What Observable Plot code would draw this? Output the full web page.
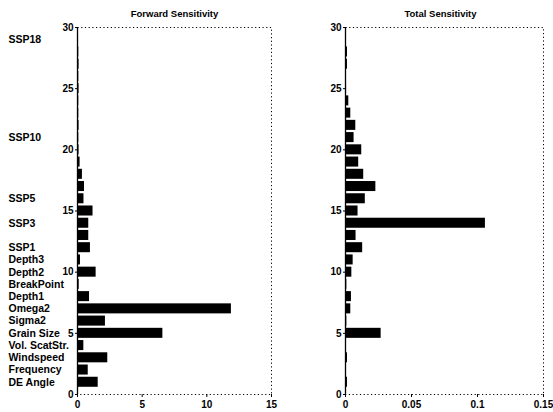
<!DOCTYPE html>
<html>
<head>
<meta charset="utf-8">
<script src="https://cdn.jsdelivr.net/npm/d3@7"></script>
<script src="https://cdn.jsdelivr.net/npm/@observablehq/plot@0.6"></script>
<style>
  html, body { margin: 0; padding: 0; background: #fff; }
  #row { display: flex; flex-direction: row; width: 553px; height: 412px; }
</style>
</head>
<body>
<div id="row"></div>
<script>
// Parameters, bottom (position 1) to top (position 29)
const params = ["DE Angle", "Frequency", "Windspeed", "Vol. ScatStr.", "Grain Size",
  "Sigma2", "Omega2", "Depth1", "BreakPoint", "Depth2", "Depth3",
  "SSP1", "SSP2", "SSP3", "SSP4", "SSP5", "SSP6", "SSP7", "SSP8", "SSP9", "SSP10",
  "SSP11", "SSP12", "SSP13", "SSP14", "SSP15", "SSP16", "SSP17", "SSP18"];
const shownLabels = ["DE Angle", "Frequency", "Windspeed", "Vol. ScatStr.", "Grain Size",
  "Sigma2", "Omega2", "Depth1", "BreakPoint", "Depth2", "Depth3",
  "SSP1", "SSP3", "SSP5", "SSP10", "SSP18"];
const forward = [1.6, 0.83, 2.34, 0.49, 6.6, 2.16, 11.9, 0.93, 0.13, 1.44, 0.23,
  1.0, 0.87, 0.87, 1.2, 0.5, 0.54, 0.38, 0.2, 0.12, 0.1, 0.12, 0.1, 0.1, 0.12, 0.1, 0.12, 0.1, 0.08];
const total = [0.0015, 0.0005, 0.0015, 0.0005, 0.027, 0.001, 0.004, 0.0045, 0.001, 0.0048, 0.0058,
  0.013, 0.008, 0.106, 0.0095, 0.015, 0.023, 0.0138, 0.010, 0.0123, 0.0065, 0.0078, 0.004, 0.0025,
  0.0008, 0.0005, 0.0015, 0.0015, 0.0005];
const yTicks = [0, 5, 10, 15, 20, 25, 30];
const fwdTicks = [0, 5, 10, 15];
const totTicks = [0, 0.05, 0.1, 0.15];
const titles = ["Forward Sensitivity", "Total Sensitivity"];

const rows = params.map((name, i) => ({name, pos: i + 1, fwd: forward[i], tot: total[i]}));
const labelRows = rows.filter(d => shownLabels.includes(d.name));

const font = {fontFamily: "'Liberation Sans', Arial, sans-serif", fontSize: "10px", fontWeight: "bold", background: "#fff", color: "#000"};

function panel({width, marginLeft, marginRight, key, domain, ticks, title, withLabels, titleDx}) {
  return Plot.plot({
    width, height: 412,
    marginLeft, marginRight, marginTop: 27, marginBottom: 18,
    style: font,
    x: {domain, ticks, tickFormat: d => String(d), tickSize: 3, tickPadding: 3, label: null},
    y: {domain: [0, 30], ticks: yTicks, tickSize: 2, tickPadding: 2, label: null},
    marks: [
      Plot.frame({stroke: "#000", strokeDasharray: "1.2,2.5", strokeWidth: 1}),
      Plot.rectX(rows, {x1: 0, x2: key, y1: d => d.pos - 0.41, y2: d => d.pos + 0.41, fill: "#000"}),
      Plot.ruleX([0], {stroke: "#000", strokeWidth: 1.3}),
      Plot.text([title], {frameAnchor: "top", dy: -17, dx: titleDx, fontSize: 9.5, fontWeight: "bold", fill: "#000"}),
      ...(withLabels ? [Plot.text(labelRows, {y: "pos", text: "name", frameAnchor: "left", dx: -69,
        textAnchor: "start", fontSize: 10.5, fontWeight: "bold", fill: "#000"})] : [])
    ]
  });
}

const row = document.getElementById("row");
row.append(panel({width: 300, marginLeft: 77, marginRight: 29, key: "fwd", domain: [0, 15], ticks: fwdTicks, title: titles[0], withLabels: true, titleDx: 0}));
row.append(panel({width: 253, marginLeft: 45, marginRight: 10, key: "tot", domain: [0, 0.15], ticks: totTicks, title: titles[1], withLabels: false, titleDx: -4}));
</script>
</body>
</html>
